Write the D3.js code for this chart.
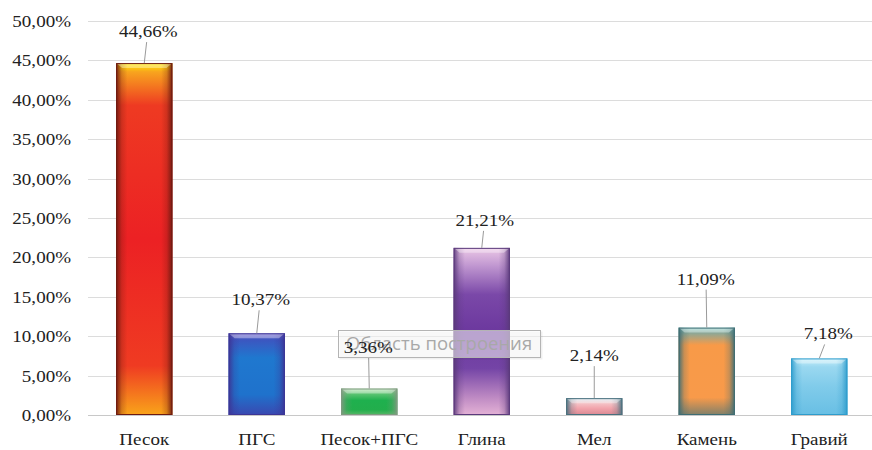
<!DOCTYPE html>
<html>
<head>
<meta charset="utf-8">
<script src="https://cdn.jsdelivr.net/npm/d3@7/dist/d3.min.js"></script>
<style>
  body { margin: 0; background: #fff; }
  svg text.s { font-family: "Liberation Serif", "DejaVu Serif", "Times New Roman", Times, serif; }
</style>
</head>
<body>
<div id="chart"></div>
<script>
// data
var categories = ["Песок", "ПГС", "Песок+ПГС", "Глина", "Мел", "Камень", "Гравий"];
var shares = [44.66, 10.37, 3.36, 21.21, 2.14, 11.09, 7.18];   // %
var yTicks = [0, 5, 10, 15, 20, 25, 30, 35, 40, 45, 50];

// look of each bar: vertical gradient stops + edge colour
var barLooks = [
  { edge: "#6e1a10", stops: [[0, "#fff000"], [0.025, "#f8a41e"], [0.12, "#ee3a22"], [0.5, "#ec2124"], [0.86, "#ef3b22"], [1, "#f9a41a"]] },
  { edge: "#3c3596", stops: [[0, "#7a6ad0"], [0.08, "#3c56c0"], [0.3, "#1f78cf"], [0.75, "#1f72cc"], [1, "#3a48b0"]] },
  { edge: "#7f9a80", stops: [[0, "#bfe6b8"], [0.2, "#5cc472"], [0.45, "#1fb04e"], [0.8, "#22ae4c"], [1, "#58b868"]] },
  { edge: "#5b3a7c", stops: [[0, "#ecc8e6"], [0.1, "#c39ad2"], [0.28, "#7a48a8"], [0.5, "#6c389e"], [0.72, "#7444a6"], [0.9, "#c08cc4"], [1, "#e4b2d6"]] },
  { edge: "#48707e", stops: [[0, "#d2e6ee"], [0.3, "#f4c4c8"], [0.6, "#f2a4ac"], [1, "#d88892"]] },
  { edge: "#3e6d74", stops: [[0, "#9ad8d4"], [0.06, "#8aa898"], [0.2, "#f89a48"], [0.8, "#f89a4a"], [1, "#80806a"]] },
  { edge: "#2e9ccc", stops: [[0, "#c8f0fa"], [0.15, "#9ad8f0"], [0.5, "#80cbea"], [1, "#68bfe4"]] }
];
// where the data labels were dragged to (px from bar top / bar centre)
var labelDy = [32, 34, 42, 28, 43, 49, 25];
var labelDx = [4, 4, -1, 3, 0, -1, 9];

var width = 872, height = 450;
var margin = { left: 88, right: 0, top: 21, bottom: 35 };

var svg = d3.select("#chart").append("svg")
  .attr("width", width)
  .attr("height", height);

var defs = svg.append("defs");

var x = d3.scaleBand()
  .domain(categories)
  .range([margin.left, margin.left + 7 * 112.5])
  .paddingInner(0.5)
  .paddingOuter(0.25);

var y = d3.scaleLinear()
  .domain([0, 50])
  .range([height - margin.bottom, margin.top]);

var ruLocale = d3.formatLocale({ decimal: ",", thousands: " ", grouping: [3], currency: ["", ""] });
var pct = ruLocale.format(".2%");

var sx = 1.12; // text in the picture is a bit stretched sideways
function stretchedText(sel, tx, ty) {
  return sel.append("g")
    .attr("transform", "translate(" + tx + "," + ty + ") scale(" + sx + ",1)")
    .append("text")
    .attr("class", "s")
    .style("font-size", "17px")
    .style("fill", "#222");
}

// grid
svg.append("g").selectAll("line")
  .data(yTicks)
  .enter().append("line")
  .attr("x1", margin.left).attr("x2", width)
  .attr("y1", function(d) { return Math.round(y(d)) + 0.5; })
  .attr("y2", function(d) { return Math.round(y(d)) + 0.5; })
  .attr("stroke", function(d) { return d === 0 ? "#c8c8c8" : "#dcdcdc"; })
  .attr("stroke-width", 1);

// y labels
var yl = svg.append("g");
yTicks.forEach(function(t) {
  stretchedText(yl, 71, y(t) + 6)
    .attr("text-anchor", "end")
    .text(pct(t / 100));
});

// gradients
barLooks.forEach(function(look, i) {
  var g = defs.append("linearGradient")
    .attr("id", "fill" + i)
    .attr("x1", 0).attr("y1", 0).attr("x2", 0).attr("y2", 1);
  look.stops.forEach(function(s) {
    g.append("stop").attr("offset", s[0]).attr("stop-color", s[1]);
  });
  var e = defs.append("linearGradient")
    .attr("id", "edge" + i)
    .attr("x1", 0).attr("y1", 0).attr("x2", 1).attr("y2", 0);
  e.append("stop").attr("offset", 0).attr("stop-color", look.edge).attr("stop-opacity", 0.95);
  e.append("stop").attr("offset", 0.1).attr("stop-color", look.edge).attr("stop-opacity", 0.25);
  e.append("stop").attr("offset", 0.2).attr("stop-color", look.edge).attr("stop-opacity", 0);
  e.append("stop").attr("offset", 0.8).attr("stop-color", look.edge).attr("stop-opacity", 0);
  e.append("stop").attr("offset", 0.9).attr("stop-color", look.edge).attr("stop-opacity", 0.25);
  e.append("stop").attr("offset", 1).attr("stop-color", look.edge).attr("stop-opacity", 0.95);
});

var data = categories.map(function(c, i) { return { cat: c, v: shares[i], i: i }; });

var bar = svg.append("g").selectAll("g")
  .data(data)
  .enter().append("g");

bar.append("rect")
  .attr("x", function(d) { return x(d.cat); })
  .attr("y", function(d) { return y(d.v); })
  .attr("width", x.bandwidth())
  .attr("height", function(d) { return y(0) - y(d.v); })
  .attr("fill", function(d) { return "url(#fill" + d.i + ")"; });

bar.append("rect")
  .attr("x", function(d) { return x(d.cat); })
  .attr("y", function(d) { return y(d.v); })
  .attr("width", x.bandwidth())
  .attr("height", function(d) { return y(0) - y(d.v); })
  .attr("fill", function(d) { return "url(#edge" + d.i + ")"; });

// top bevel highlight
bar.append("path")
  .attr("d", function(d) {
    var x0 = x(d.cat), x1 = x0 + x.bandwidth(), t = y(d.v);
    return "M" + x0 + "," + t + "L" + x1 + "," + t + "L" + (x1 - 6) + "," + (t + 5) + "L" + (x0 + 6) + "," + (t + 5) + "Z";
  })
  .attr("fill", "#fff")
  .attr("fill-opacity", 0.35);

bar.append("rect")
  .attr("x", function(d) { return x(d.cat) + 0.5; })
  .attr("y", function(d) { return y(d.v) + 0.5; })
  .attr("width", x.bandwidth() - 1)
  .attr("height", function(d) { return y(0) - y(d.v) - 1; })
  .attr("fill", "none")
  .attr("stroke", function(d) { return barLooks[d.i].edge; })
  .attr("stroke-width", 1);

// leader lines
bar.append("line")
  .attr("x1", function(d) { return x(d.cat) + x.bandwidth() / 2; })
  .attr("y1", function(d) { return y(d.v); })
  .attr("x2", function(d) { return x(d.cat) + x.bandwidth() / 2 + labelDx[d.i] * 0.6; })
  .attr("y2", function(d) { return y(d.v) - labelDy[d.i] + 11; })
  .attr("stroke", "#9a9a9a")
  .attr("stroke-width", 1);

// hover tip left in the screenshot (sits over the bars, under the labels)
var tip = svg.append("g").attr("transform", "translate(338,330)");
tip.append("rect")
  .attr("x", 1.5).attr("y", 1.5)
  .attr("width", 203).attr("height", 28)
  .attr("fill", "#000").attr("fill-opacity", 0.06);
tip.append("rect")
  .attr("x", 0.5).attr("y", 0.5)
  .attr("width", 202).attr("height", 27)
  .attr("fill", "#fff").attr("fill-opacity", 0.55)
  .attr("stroke", "#b4b4b4");
tip.append("text")
  .attr("x", 101).attr("y", 20)
  .attr("text-anchor", "middle")
  .style("font-family", "'Open Sans', 'Noto Sans', sans-serif")
  .style("fill", "#a8a8a8")
  .style("font-size", "18.5px")
  .text("Область построения");

// value labels
var vl = svg.append("g");
data.forEach(function(d) {
  stretchedText(vl, x(d.cat) + x.bandwidth() / 2 + labelDx[d.i], y(d.v) - labelDy[d.i] + 6)
    .attr("text-anchor", "middle")
    .text(pct(d.v / 100));
});

// x labels
var xl = svg.append("g");
categories.forEach(function(c) {
  stretchedText(xl, x(c) + x.bandwidth() / 2, 445)
    .attr("text-anchor", "middle")
    .text(c);
});
</script>
</body>
</html>
